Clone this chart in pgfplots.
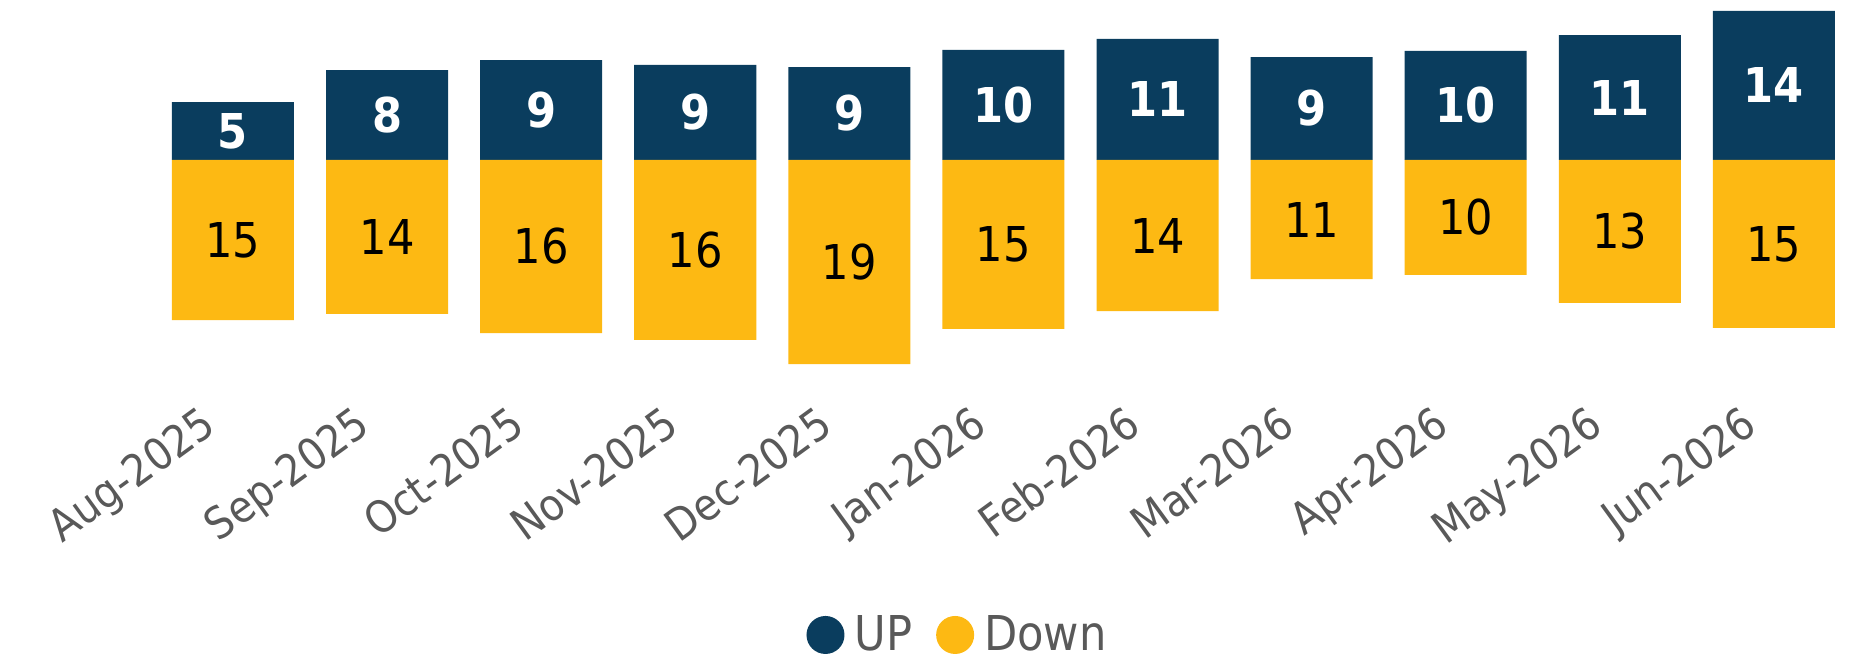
\documentclass[border=0pt]{standalone}
\usepackage{fontspec}
\setmainfont{DejaVu Sans Condensed}
\usepackage{pgfplots}
\usepackage{pgfplotstable}
\pgfplotsset{compat=1.18}
\definecolor{upc}{HTML}{0A3D5E}
\definecolor{downc}{HTML}{FDB913}
\definecolor{txt}{HTML}{595959}
\pgfplotstableread{
x up down uplab downlab
0 5.27 -14.55 5 15
1 8.18 -14.00 8 14
2 9.09 -15.73 9 16
3 8.64 -16.36 9 16
4 8.45 -18.55 9 19
5 10.00 -15.36 10 15
6 11.00 -13.73 11 14
7 9.36 -10.82 9 11
8 9.91 -10.45 10 10
9 11.36 -13.00 11 13
10 13.55 -15.27 14 15
}\data
\begin{document}
\begin{tikzpicture}
\begin{axis}[
  scale only axis, width=847.5pt, height=190pt,
  xmin=-0.5, xmax=10.5, ymin=-20, ymax=14.545,
  clip=false,
  axis line style={draw=none},
  tick style={draw=none},
  major tick length=0pt,
  ytick=\empty,
  xtick={0,...,10},
  xticklabels={Aug-2025,Sep-2025,Oct-2025,Nov-2025,Dec-2025,Jan-2026,Feb-2026,Mar-2026,Apr-2026,May-2026,Jun-2026},
  xticklabel style={rotate=36, anchor=north east, inner sep=0pt, xshift=-20.6pt, yshift=0.4pt, font=\fontsize{22}{24}\selectfont, text=txt},
  legend columns=2,
  legend style={draw=none, fill=none, at={(0.4735,-0.671)}, anchor=center,
    font=\fontsize{24}{24}\selectfont, text=txt,
    /tikz/every odd column/.append style={column sep=3pt},
    /tikz/every even column/.append style={column sep=10pt}},
]
\addplot[ybar, bar width=0.792, bar shift=0pt, fill=upc, draw=none,
  legend image code/.code={\fill[upc] (0pt,0pt) circle (9.5pt);}]
  table[x=x, y=up]{\data};
\addlegendentry{UP}
\addplot[ybar, bar width=0.792, bar shift=0pt, fill=downc, draw=none,
  legend image code/.code={\fill[downc] (0pt,0pt) circle (9.5pt);}]
  table[x=x, y=down]{\data};
\addlegendentry{Down}
\addplot[forget plot, draw=none, mark=none, nodes near coords, point meta=explicit symbolic,
  nodes near coords style={font=\bfseries\fontsize{24}{24}\selectfont, text=white, anchor=center}]
  table[x=x, y expr=\thisrow{up}/2, meta=uplab]{\data};
\addplot[forget plot, draw=none, mark=none, nodes near coords, point meta=explicit symbolic,
  nodes near coords style={font=\fontsize{24}{24}\selectfont, text=black, anchor=center}]
  table[x=x, y expr=\thisrow{down}/2, meta=downlab]{\data};
\path (axis cs:-1.512,14.545) rectangle (axis cs:10.52,-45.36);
\end{axis}
\end{tikzpicture}
\end{document}
